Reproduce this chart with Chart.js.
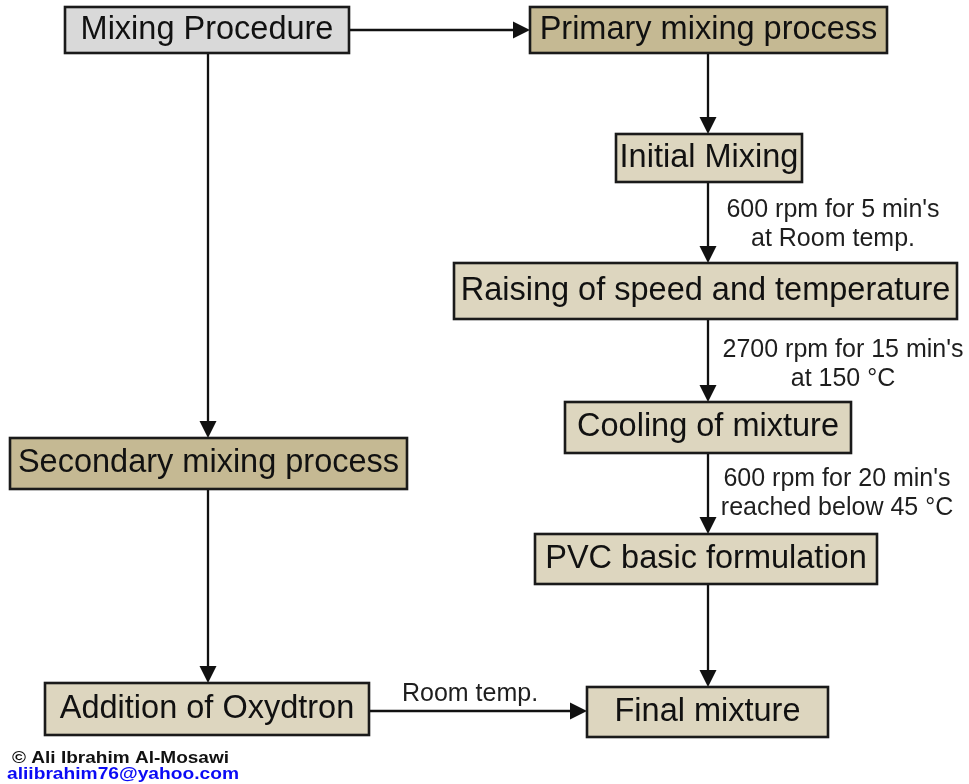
<!DOCTYPE html>
<html>
<head>
<meta charset="utf-8">
<script src="https://cdn.jsdelivr.net/npm/chart.js@4/dist/chart.umd.min.js"></script>
<style>
  html, body { margin: 0; padding: 0; background: #ffffff; }
  #wrap { width: 969px; height: 784px; }
</style>
</head>
<body>
<div id="wrap"><canvas id="c" width="969" height="784"></canvas></div>
<script>
// ---- Flowchart content (nodes) ----
const nodeLabels = [
  "Mixing Procedure",
  "Primary mixing process",
  "Initial Mixing",
  "Raising of speed and temperature",
  "Cooling of mixture",
  "PVC basic formulation",
  "Final mixture",
  "Secondary mixing process",
  "Addition of Oxydtron"
];
const nodeKind = ["root", "stage", "step", "step", "step", "step", "step", "stage", "step"];

// ---- Flowchart content (edges) ----
const edgeFrom = [0, 0, 1, 2, 3, 4, 5, 7, 8];
const edgeTo   = [1, 7, 2, 3, 4, 5, 6, 8, 6];
const edgeLabels = [
  [],
  [],
  [],
  ["600 rpm for 5 min's", "at Room temp."],
  ["2700 rpm for 15 min's", "at 150 °C"],
  ["600 rpm for 20 min's", "reached below 45 °C"],
  [],
  [],
  ["Room temp."]
];

const creditLines = ["© Ali Ibrahim Al-Mosawi", "aliibrahim76@yahoo.com"];

// ---- Layout (in scale units; axes span the page) ----
const boxLeft   = [65, 530, 616, 454, 565, 535, 587, 10, 45];
const boxTop    = [7, 7, 134, 263, 402, 534, 687, 438, 683];
const boxRight  = [349, 887, 802, 957, 851, 877, 828, 407, 369];
const boxBottom = [53, 53, 182, 319, 453, 584, 737, 489, 735];
const edgeDir   = ["h", "v", "v", "v", "v", "v", "v", "v", "h"];
const edgeAt    = [30, 208, 708, 708, 708, 708, 708, 208, 711];
const edgeLabelX = [0, 0, 0, 833, 843, 837, 0, 0, 470];
const edgeLabelY = [0, 0, 0, 210, 350, 479, 0, 0, 694];
const creditX = [12, 7];
const creditY = [758, 774];
const creditW = [217, 232];

const kindFill = { root: "#d9d9d9", stage: "#c5b993", step: "#ddd6bf" };

const flowPlugin = {
  id: "flow",
  afterDatasetsDraw(chart) {
    const ctx = chart.ctx;
    const xs = chart.scales.x, ys = chart.scales.y;
    const px = v => xs.getPixelForValue(v);
    const py = v => ys.getPixelForValue(v);
    ctx.save();

    // edges
    ctx.strokeStyle = "#111111";
    ctx.fillStyle = "#111111";
    ctx.lineWidth = 2.3;
    const ah = 17, aw = 8.5;
    edgeFrom.forEach((f, i) => {
      const t = edgeTo[i];
      let x1, y1, x2, y2;
      if (edgeDir[i] === "v") {
        x1 = x2 = px(edgeAt[i]);
        y1 = py(boxBottom[f]);
        y2 = py(boxTop[t]);
        ctx.beginPath(); ctx.moveTo(x1, y1); ctx.lineTo(x2, y2 - ah + 1); ctx.stroke();
        ctx.beginPath(); ctx.moveTo(x2, y2); ctx.lineTo(x2 - aw, y2 - ah); ctx.lineTo(x2 + aw, y2 - ah); ctx.closePath(); ctx.fill();
      } else {
        y1 = y2 = py(edgeAt[i]);
        x1 = px(boxRight[f]);
        x2 = px(boxLeft[t]);
        ctx.beginPath(); ctx.moveTo(x1, y1); ctx.lineTo(x2 - ah + 1, y2); ctx.stroke();
        ctx.beginPath(); ctx.moveTo(x2, y2); ctx.lineTo(x2 - ah, y2 - aw); ctx.lineTo(x2 - ah, y2 + aw); ctx.closePath(); ctx.fill();
      }
    });

    // edge labels
    ctx.fillStyle = "#1e1e1e";
    ctx.font = "25px 'Liberation Sans', Arial, sans-serif";
    ctx.textAlign = "center";
    ctx.textBaseline = "middle";
    edgeLabels.forEach((lines, i) => {
      lines.forEach((s, k) => {
        ctx.fillText(s, px(edgeLabelX[i]), py(edgeLabelY[i] + k * 29));
      });
    });

    // boxes
    nodeLabels.forEach((lab, i) => {
      const l = px(boxLeft[i]), r = px(boxRight[i]);
      const t = py(boxTop[i]), b = py(boxBottom[i]);
      ctx.fillStyle = kindFill[nodeKind[i]];
      ctx.fillRect(l, t, r - l, b - t);
      ctx.strokeStyle = "#1a1a1a";
      ctx.lineWidth = 2.6;
      ctx.strokeRect(l, t, r - l, b - t);
      ctx.fillStyle = "#111111";
      ctx.font = "32.5px 'Liberation Sans', Arial, sans-serif";
      ctx.textAlign = "center";
      ctx.textBaseline = "middle";
      ctx.fillText(lab, (l + r) / 2, (t + b) / 2);
    });

    // credit (stretched bold lettering)
    ctx.textAlign = "left";
    ctx.textBaseline = "middle";
    ctx.font = "bold 17px 'Liberation Sans', Arial, sans-serif";
    const creditColors = ["#111111", "#0a0af5"];
    creditLines.forEach((s, k) => {
      const w = ctx.measureText(s).width;
      const sx = creditW[k] / w;
      ctx.save();
      ctx.translate(px(creditX[k]), py(creditY[k]));
      ctx.scale(sx, 1);
      ctx.fillStyle = creditColors[k];
      ctx.fillText(s, 0, 0);
      ctx.restore();
    });
    ctx.restore();
  }
};

const centers = nodeLabels.map((_, i) => ({ x: (boxLeft[i] + boxRight[i]) / 2, y: (boxTop[i] + boxBottom[i]) / 2 }));

new Chart(document.getElementById("c"), {
  type: "scatter",
  data: { datasets: [{ label: "nodes", data: centers, pointRadius: 0, pointHoverRadius: 0 }] },
  options: {
    responsive: false,
    devicePixelRatio: 1,
    animation: false,
    layout: { padding: 0 },
    plugins: { legend: { display: false }, tooltip: { enabled: false } },
    scales: {
      x: { type: "linear", min: 0, max: 969, display: false },
      y: { type: "linear", min: 0, max: 784, reverse: true, display: false }
    }
  },
  plugins: [flowPlugin]
});
</script>
</body>
</html>
